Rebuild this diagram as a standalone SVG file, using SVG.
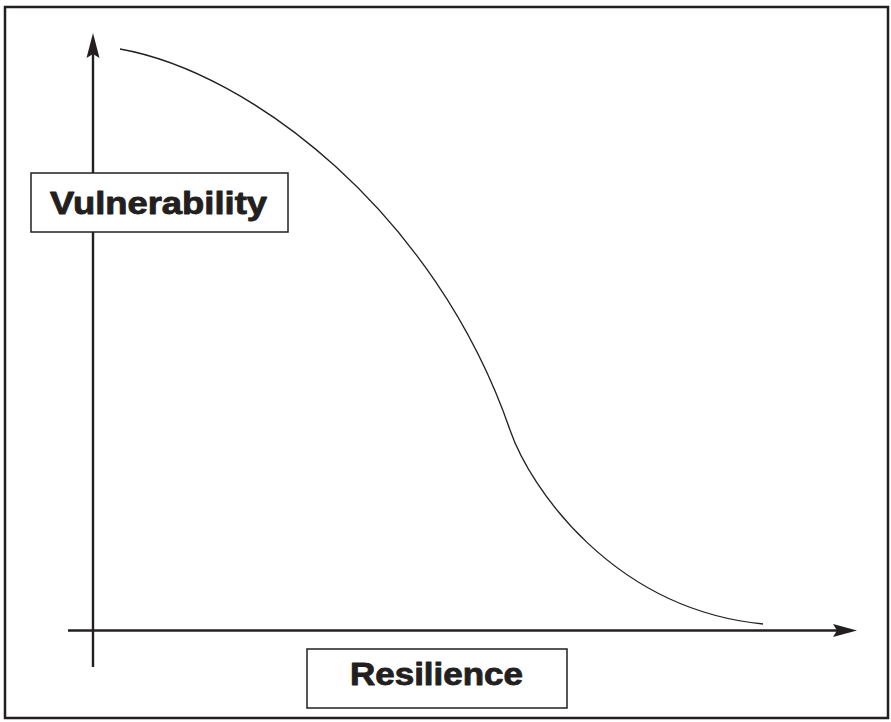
<svg xmlns="http://www.w3.org/2000/svg" width="891" height="722" viewBox="0 0 891 722">
<style>
.axis{stroke:#231f20;stroke-width:2.4;fill:none}
.head{fill:#231f20}
.box{fill:#fff;stroke:#231f20;stroke-width:1.5}
.lbl{font-family:"Liberation Sans",Arial,sans-serif;font-weight:bold;font-size:32px;fill:#231f20;stroke:#231f20;stroke-width:0.9;stroke-linejoin:round}
.curve{stroke:#231f20;stroke-width:1.3;fill:none}
</style>
<rect x="0" y="0" width="891" height="722" fill="#fff"/>
<rect id="frame" x="5" y="7" width="883" height="711" fill="none" stroke="#231f20" stroke-width="2.5"/>
<g id="connectors">
<line class="axis" x1="93" y1="667" x2="93" y2="52"/>
<polygon class="head" points="93,33 99.5,58 93,54 86.5,58"/>
<line class="axis" x1="68" y1="630.5" x2="840" y2="630.5"/>
<polygon class="head" points="857,630.5 833,637 837,630.5 833,624"/>
<path class="curve" d="M120,49 C250,72 435,212.5 510,430 C530,488 613,609 763,624"/>
</g>
<g id="vulnerability">
<rect class="box" x="31" y="173" width="257" height="59"/>
<text class="lbl" x="50" y="214" textLength="217" lengthAdjust="spacingAndGlyphs">Vulnerability</text>
</g>
<g id="resilience">
<rect class="box" x="307" y="649" width="260" height="59"/>
<text class="lbl" x="350" y="685" textLength="173" lengthAdjust="spacingAndGlyphs">Resilience</text>
</g>
</svg>
